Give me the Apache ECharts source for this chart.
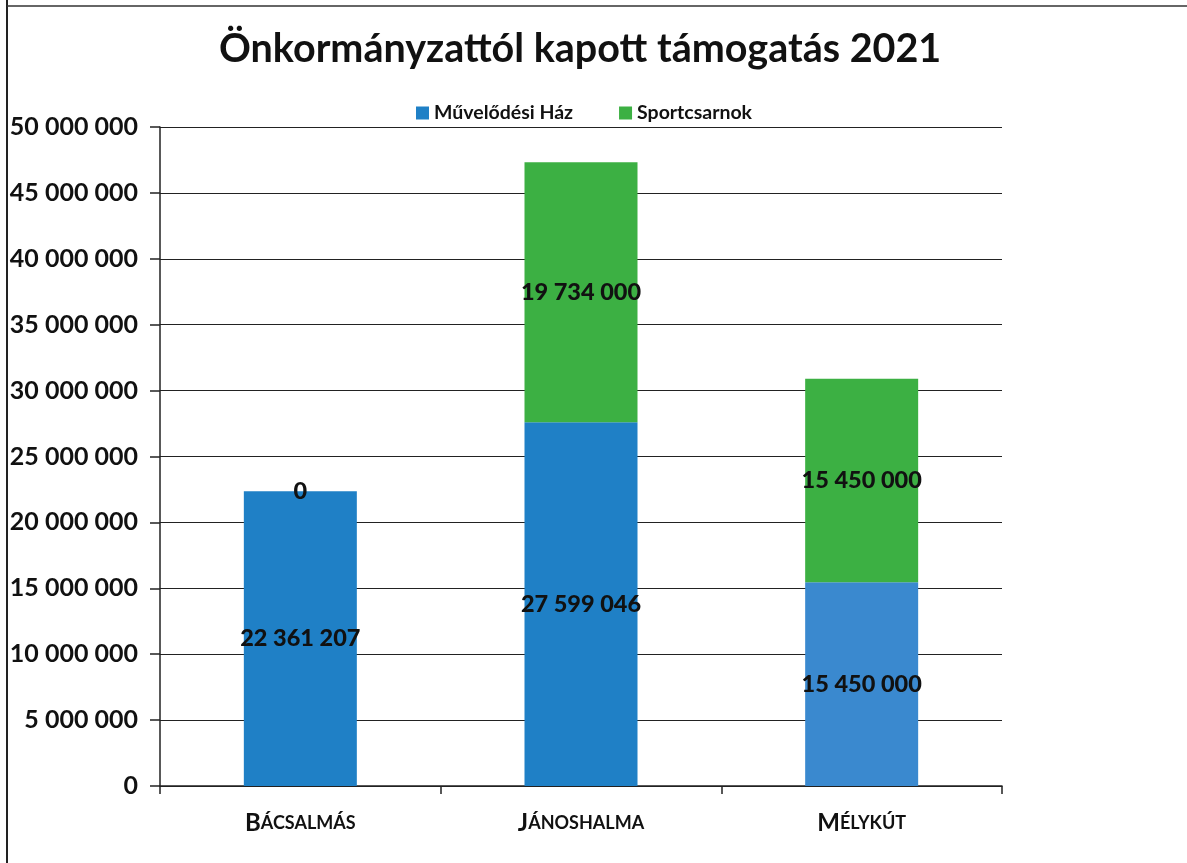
<!DOCTYPE html>
<html>
<head>
<meta charset="utf-8">
<script src="https://cdn.jsdelivr.net/npm/echarts@6/dist/echarts.min.js"></script>
<style>
html,body{margin:0;padding:0;background:#fff;}
#chart{width:1187px;height:863px;}
</style>
</head>
<body>
<div id="chart"></div>
<script>
const title = 'Önkormányzattól kapott támogatás 2021';
const categories = ['BÁCSALMÁS', 'JÁNOSHALMA', 'MÉLYKÚT'];
const seriesNames = ['Művelődési Ház', 'Sportcsarnok'];
const muvelodesiHaz = [22361207, 27599046, 15450000];
const sportcsarnok = [0, 19734000, 15450000];

const FONT = 'Lato, "Open Sans", sans-serif';
function fmt(v) {
  return String(Math.round(v)).replace(/\B(?=(\d{3})+(?!\d))/g, ' ');
}
const chart = echarts.init(document.getElementById('chart'));
function makeLabel() {
  return {
    show: true,
    position: 'inside',
    color: '#111',
    fontFamily: FONT,
    fontWeight: 900,
    fontSize: 23.5,
    textBorderWidth: 0,
    formatter: p => fmt(p.value)
  };
}
chart.setOption({
  backgroundColor: '#fff',
  animation: false,
  title: {
    text: title,
    left: 214,
    top: 24,
    textStyle: { fontFamily: FONT, fontWeight: 'bold', fontSize: 39.5, color: '#111' }
  },
  legend: {
    top: 98,
    left: 411,
    itemWidth: 13,
    itemHeight: 13,
    itemGap: 46,
    icon: 'rect',
    textStyle: { fontFamily: FONT, fontWeight: 'bold', fontSize: 19.5, color: '#111' },
    data: seriesNames
  },
  grid: { left: 160, right: 185, top: 127, bottom: 77, containLabel: false },
  xAxis: {
    type: 'category',
    data: categories,
    axisLine: { lineStyle: { color: '#222', width: 1.5 } },
    axisTick: { show: true, length: 8, lineStyle: { color: '#222', width: 1.5 } },
    axisLabel: {
      margin: 25,
      formatter: v => '{b|' + v[0] + '}{s|' + v.slice(1) + '}',
      rich: {
        b: { fontFamily: FONT, fontWeight: 'bold', fontSize: 24, color: '#111' },
        s: { fontFamily: FONT, fontWeight: 'bold', fontSize: 18, color: '#111' }
      }
    }
  },
  yAxis: {
    type: 'value',
    min: 0,
    max: 50000000,
    interval: 5000000,
    axisLine: { show: true, lineStyle: { color: '#222', width: 1.5 } },
    axisTick: { show: true, inside: false, length: 10, lineStyle: { color: '#222', width: 1.5 } },
    splitLine: { show: true, lineStyle: { color: '#222', width: 1.2 } },
    axisLabel: {
      margin: 22,
      fontFamily: FONT, fontWeight: 'bold', fontSize: 25, color: '#111',
      formatter: v => fmt(v)
    }
  },
  series: [
    {
      name: seriesNames[0],
      type: 'bar',
      stack: 'total',
      barWidth: 113,
      itemStyle: { color: '#1f80c6' },
      label: makeLabel(),
      data: muvelodesiHaz.map((v, i) => i === 2 ? { value: v, itemStyle: { color: '#3a89cf' } } : v)
    },
    {
      name: seriesNames[1],
      type: 'bar',
      stack: 'total',
      barWidth: 113,
      itemStyle: { color: '#3cb043' },
      label: makeLabel(),
      data: sportcsarnok
    }
  ],
  graphic: [
    { type: 'line', shape: { x1: 7, y1: 0, x2: 7, y2: 863 }, style: { stroke: '#222', lineWidth: 2 } },
    { type: 'line', shape: { x1: 7, y1: 6, x2: 1187, y2: 6 }, style: { stroke: '#333', lineWidth: 1.5 } }
  ]
});
</script>
</body>
</html>
